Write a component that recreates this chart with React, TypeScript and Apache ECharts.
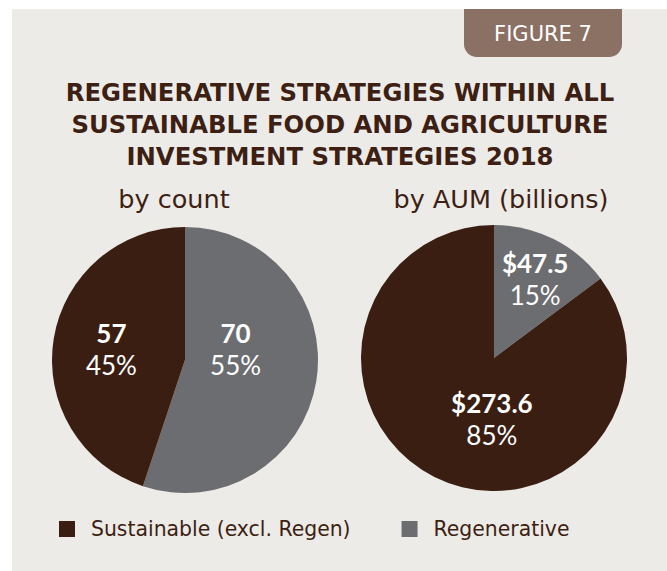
import React, { useEffect, useRef } from "react";
import * as echarts from "echarts";

const categories = ["Regenerative", "Sustainable (excl. Regen)"];
const legendOrder = ["Sustainable (excl. Regen)", "Regenerative"];
const countValues = [70, 57];
const aumValues = [47.5, 273.6];
const chartTitle = "REGENERATIVE STRATEGIES WITHIN ALL\nSUSTAINABLE FOOD AND AGRICULTURE\nINVESTMENT STRATEGIES 2018";
const subTitles = ["by count", "by AUM (billions)"];
const figureLabel = "FIGURE 7";

const COLORS = ["#6c6d71", "#3b1e12"];
const BROWN = "#3d1f13";
const BG = "#ecebe7";
const WIDE = "'DejaVu Sans', 'Open Sans', sans-serif";
const LBL = "Lato, 'Open Sans', sans-serif";

// label offsets (dx, dy) per series / data index
const labelShift = [
  [[-18, -22], [-5, 0]],
  [[10, -17], [29, -1]],
];

export default function App() {
  const ref = useRef<HTMLDivElement>(null);
  useEffect(() => {
    if (!ref.current) return;
    const chart = echarts.init(ref.current, null, { renderer: "svg" });
    const rich = {
      b: { fontFamily: LBL, fontSize: 26, fontWeight: "bold", color: "#ffffff", lineHeight: 32 },
      p: { fontFamily: LBL, fontSize: 26, color: "#ffffff", lineHeight: 32 },
    };
    const mkSeries = (idx: number, values: number[], center: [number, number], fmt: (v: number) => string) => ({
      type: "pie",
      center,
      radius: [0, 133],
      startAngle: 90,
      clockwise: true,
      silent: true,
      data: categories.map((c, i) => ({ name: c, value: values[i], itemStyle: { color: COLORS[i] } })),
      label: {
        show: true,
        position: "inside",
        formatter: (p: any) => `{b|${fmt(p.value)}}\n{p|${Math.round(p.percent)}%}`,
        rich,
      },
      labelLine: { show: false },
      labelLayout: (p: any) => ({ dx: labelShift[idx][p.dataIndex][0], dy: labelShift[idx][p.dataIndex][1] }),
      itemStyle: { borderWidth: 0 },
      emphasis: { disabled: true },
    });
    chart.setOption({
      animation: false,
      backgroundColor: "#ffffff",
      color: COLORS,
      graphic: [
        { type: "rect", z: -10, shape: { x: 12, y: 9, width: 655, height: 562 }, style: { fill: BG } },
        { type: "rect", z: -5, shape: { x: 464, y: 9, width: 158, height: 48, r: [0, 0, 13, 13] }, style: { fill: "#8b7064" } },
        {
          type: "text", x: 543, y: 34,
          style: { text: figureLabel, fill: "#ffffff", font: `21px ${WIDE}`, align: "center", verticalAlign: "middle" },
        },
        {
          type: "text", x: 174, y: 199,
          style: { text: subTitles[0], fill: BROWN, font: `25.5px ${WIDE}`, align: "center", verticalAlign: "middle" },
        },
        {
          type: "text", x: 501, y: 199,
          style: { text: subTitles[1], fill: BROWN, font: `25.5px ${WIDE}`, align: "center", verticalAlign: "middle" },
        },
      ],
      title: {
        text: chartTitle,
        left: 340,
        top: 76,
        textAlign: "center",
        padding: 0,
        textStyle: { fontFamily: WIDE, fontSize: 24.3, fontWeight: "bold", color: BROWN, lineHeight: 32 },
      },
      legend: {
        data: legendOrder,
        left: 59,
        top: 518,
        padding: 0,
        itemGap: 51,
        itemWidth: 16,
        itemHeight: 16,
        icon: "rect",
        selectedMode: false,
        textStyle: { fontFamily: WIDE, fontSize: 20.4, color: BROWN, lineHeight: 22, padding: [0, 0, 0, 11] },
      },
      series: [
        mkSeries(0, countValues, [185, 360], (v) => String(v)),
        mkSeries(1, aumValues, [494, 358], (v) => "$" + v.toFixed(1)),
      ],
    });
    return () => chart.dispose();
  }, []);
  return <div ref={ref} style={{ position: "fixed", left: 0, top: 0, width: 667, height: 571 }} />;
}
